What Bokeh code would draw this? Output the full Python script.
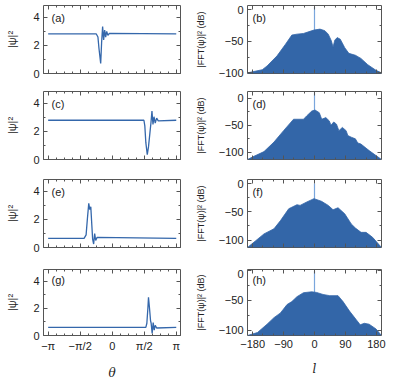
import numpy as np
from bokeh.plotting import figure
from bokeh.models import Range1d, FixedTicker, LinearAxis, Label, CustomLabelingPolicy
from bokeh.layouts import column, row
from bokeh.embed import file_html
from bokeh.resources import INLINE

PI = np.pi

# ---------------- data: |psi|^2 vs theta ----------------
theta_a = [-PI, -0.78, -0.70, -0.65, -0.565, -0.52, -0.47, -0.42, -0.37, -0.32, -0.27, -0.21, -0.14, PI]
psi_a = [2.82, 2.82, 2.6, 1.8, 0.72, 2.2, 3.35, 2.4, 3.1, 2.6, 3.0, 2.72, 2.86, 2.82]

theta_c = [-PI, 1.556, 1.60, 1.65, 1.72, 1.78, 1.85, 1.90, 1.95, 2.0, 2.05, 2.11, 2.18, 2.26, PI]
psi_c = [2.8, 2.8, 2.4, 1.2, 0.35, 0.9, 1.9, 2.6, 3.45, 2.5, 3.05, 2.6, 2.95, 2.75, 2.8]

theta_e = [-PI, -1.38, -1.28, -1.22, -1.15, -1.10, -1.05, -1.00, -0.96, -0.91, -0.86, -0.81, -0.745, PI]
psi_e = [0.65, 0.65, 0.9, 2.0, 3.15, 2.7, 2.9, 1.6, 0.6, 0.25, 1.0, 0.5, 0.72, 0.65]

theta_g = [-PI, 1.65, 1.70, 1.75, 1.78, 1.83, 1.88, 1.91, 1.96, 2.01, 2.06, 2.11, 2.18, PI]
psi_g = [0.6, 0.6, 0.9, 2.0, 2.8, 2.0, 1.1, 0.9, 0.15, 0.95, 0.4, 0.75, 0.55, 0.6]

# ---------------- data: |FFT(psi)|^2 (dB) vs l ----------------
l_b = [-195, -152, -138, -109, -85, -66, -51, -32, -13, -1.5, 16, 30, 40, 49, 54, 59, 66, 75, 88, 100, 119, 135, 155, 179, 195]
db_b = [-100, -95, -89, -73, -55, -40, -38.5, -37.4, -34, -32, -30.5, -33, -38.5, -49, -59, -48, -44, -46.5, -60, -69, -72, -77, -87, -96, -100]

l_d = [-195, -176, -147, -118, -90, -61, -32, -23, -8, 1.5, 14, 21, 33, 43, 48, 56, 64, 71, 81, 92, 97, 107, 119, 126, 135, 159, 195]
db_d = [-113, -107, -98.5, -81, -60, -39, -39, -33, -24, -22, -27, -39, -36, -42, -50, -44, -48, -60, -54, -60, -69, -72, -75, -82.6, -84.5, -96.6, -113]

l_f = [-195, -171, -147, -118, -99, -75, -51, -42, -22.5, -1.5, 20.5, 40, 54, 68.5, 88, 107, 119, 135.5, 150, 169, 195]
db_f = [-113, -101, -89, -80, -65.5, -44.6, -37.5, -38.7, -32.7, -26.8, -31.5, -38.7, -46.4, -42.8, -53.6, -71.4, -78.6, -86.3, -86.3, -95, -113]

l_h = [-195, -166, -138, -118, -99, -80, -66, -51, -32, -8, 6, 25, 44.5, 68.5, 83, 102, 121, 133, 145, 159, 179, 195]
db_h = [-109, -104, -90, -79, -71, -57, -52, -43.7, -37, -35.5, -36.6, -40, -42, -42, -52, -68, -82, -91, -88.5, -90, -98, -109]

spike_l = 0
spike_peaks = [5, 10, 0, 0]
db_ranges = [(-101, 7), (-113, 12), (-113, 7), (-109, 2)]

left_sets = [(theta_a, psi_a, "(a)"), (theta_c, psi_c, "(c)"), (theta_e, psi_e, "(e)"), (theta_g, psi_g, "(g)")]
right_sets = [(l_b, db_b, "(b)"), (l_d, db_d, "(d)"), (l_f, db_f, "(f)"), (l_h, db_h, "(h)")]

theta_ticks = [-PI, -PI / 2, 0, PI / 2, PI]
theta_tick_labels = ["−π", "−π/2", "0", "π/2", "π"]
theta_minor = [k * PI / 8 for k in range(-8, 9)]
l_ticks = [-180, -90, 0, 90, 180]
l_tick_labels = ["−180", "−90", "0", "90", "180"]
l_minor = list(range(-180, 181, 30))
psi_ticks = [0, 2, 4]
psi_minor = [0, 1, 2, 3, 4]
db_ticks = [-100, -50, 0]
db_tick_labels = ["−100", "−50", "0"]
db_minor = list(range(-125, 1, 25))

LINE_C = "#3467ab"
FILL_C = "#3366a8"
SPIKE_C = "#7aa6dc"
TICK_C = "#555555"
FONT = "Liberation Sans"

FRAME_H = 68
# (fig height, top border, bottom border) for each row
ROWS = [(91, 5, 18), (88, 0, 20), (90, 0, 22), (113, 0, 45)]

NO_LABELS = """
for (const i of indices) {
    indices.unset(i)
}
return indices
"""


def style_axis(ax, show_labels):
    ax.axis_line_color = None
    ax.major_tick_in = 4
    ax.major_tick_out = 0
    ax.minor_tick_in = 2
    ax.minor_tick_out = 0
    ax.major_tick_line_color = TICK_C
    ax.minor_tick_line_color = TICK_C
    ax.major_label_text_font = FONT
    ax.major_label_text_color = "#222222"
    if show_labels:
        ax.major_label_text_font_size = "11px"
        ax.major_label_standoff = 4
    else:
        ax.major_label_text_font_size = "0px"
        ax.major_label_standoff = 0
        ax.major_label_policy = CustomLabelingPolicy(code=NO_LABELS)


def make_fig(width, height, xr, yr, mbl, mbr, mbt, mbb):
    p = figure(width=width, height=height, x_range=xr, y_range=yr,
               output_backend="svg", toolbar_location=None,
               min_border_left=mbl, min_border_right=mbr,
               min_border_top=mbt, min_border_bottom=mbb,
               background_fill_color="white", border_fill_color="white")
    p.xgrid.visible = False
    p.ygrid.visible = False
    p.outline_line_color = "#555555"
    p.outline_line_width = 1
    return p


def add_ticks(p, xt, xminor, yt, yminor, xlabels, ylabels, show_x, xlabel, ylabel,
              ylabel_size, ylabel_standoff):
    xtick = FixedTicker(ticks=xt, minor_ticks=xminor)
    ytick = FixedTicker(ticks=yt, minor_ticks=yminor)
    xa = p.xaxis[0]
    ya = p.yaxis[0]
    xa.ticker = xtick
    ya.ticker = ytick
    if xlabels:
        xa.major_label_overrides = {(int(t) if float(t).is_integer() else float(t)): s
                                    for t, s in zip(xt, xlabels)}
    if ylabels:
        ya.major_label_overrides = {int(t): s for t, s in zip(yt, ylabels)}
    style_axis(xa, show_x)
    style_axis(ya, True)
    ya.axis_label = ylabel
    ya.axis_label_text_font = FONT
    ya.axis_label_text_font_style = "normal"
    ya.axis_label_text_font_size = ylabel_size
    ya.axis_label_standoff = ylabel_standoff
    ya.axis_label_text_color = "#222222"
    if show_x:
        xa.axis_label = xlabel
        xa.axis_label_text_font = "DejaVu Serif"
        xa.axis_label_text_font_style = "italic"
        xa.axis_label_text_font_size = "12px"
        xa.axis_label_standoff = 11
        xa.axis_label_text_color = "#222222"
    top = LinearAxis(ticker=xtick)
    style_axis(top, False)
    p.add_layout(top, "above")
    right = LinearAxis(ticker=ytick)
    style_axis(right, False)
    p.add_layout(right, "right")


rows = []
for i in range(4):
    last = i == 3
    h, mbt, mbb = ROWS[i]

    th, ps, lab = left_sets[i]
    pl = make_fig(192, h, Range1d(-3.37, 3.35), Range1d(0, 4.85), 43, 12, mbt, mbb)
    pl.line(th, ps, line_width=1.3, line_color=LINE_C)
    add_ticks(pl, theta_ticks, theta_minor, psi_ticks, psi_minor,
              theta_tick_labels, None, last, "θ", "|ψ|²", "11px", 12)
    pl.add_layout(Label(x=8, y=FRAME_H - 6, x_units="screen", y_units="screen", text=lab,
                        text_font=FONT, text_font_size="11px", text_baseline="top",
                        text_color="#222222"))

    lv, dv, lab2 = right_sets[i]
    lo, hi = db_ranges[i]
    pr = make_fig(201, h, Range1d(-195, 195), Range1d(lo, hi), 53, 12, mbt, mbb)
    pr.segment(x0=spike_l, y0=lo, x1=spike_l, y1=spike_peaks[i], line_color=SPIKE_C, line_width=1.2)
    pr.varea(x=lv, y1=lo, y2=dv, fill_color=FILL_C)
    pr.line(lv, dv, line_color=FILL_C, line_width=0.8)
    add_ticks(pr, l_ticks, l_minor, db_ticks, db_minor,
              l_tick_labels, db_tick_labels, last, "l", "|FFT(ψ)|² (dB)", "9px", 10)
    pr.add_layout(Label(x=5, y=FRAME_H - 6, x_units="screen", y_units="screen", text=lab2,
                        text_font=FONT, text_font_size="11px", text_baseline="top",
                        text_color="#222222"))
    rows.append(row(pl, pr))

layout = column(*rows)
open("out.html", "w").write(file_html(layout, INLINE))
